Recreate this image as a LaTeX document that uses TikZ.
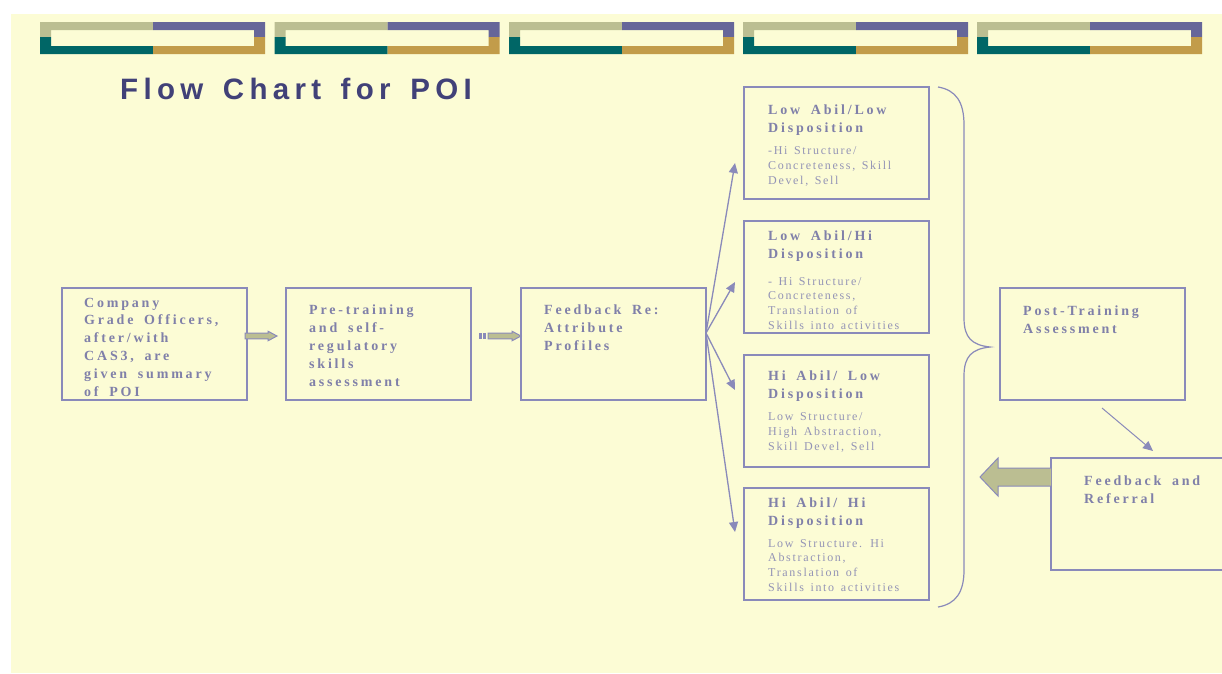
\documentclass[tikz,border=0pt]{standalone}
\usepackage{fontspec}
\setmainfont{Liberation Serif}
\newfontfamily\headfont[LetterSpace=18,WordSpace=1.45]{Liberation Sans}
\newfontfamily\boxfont[LetterSpace=20,WordSpace=1.7]{Liberation Serif}
\newfontfamily\notefont[LetterSpace=14,WordSpace=1.4]{Liberation Serif}
\usetikzlibrary{arrows.meta,calc}
\definecolor{cream}{HTML}{FCFCD5}
\definecolor{khaki}{HTML}{BBBE92}
\definecolor{slate}{HTML}{666699}
\definecolor{barteal}{HTML}{006666}
\definecolor{bargold}{HTML}{C29C4A}
\definecolor{boxline}{HTML}{8A8ABA}
\definecolor{boxtext}{HTML}{8080A9}
\definecolor{notetext}{HTML}{9494B6}
\definecolor{titletext}{HTML}{414178}
% small block arrow from #1 (tail) to #2 (tip)
\newcommand{\fatlink}[2]{%
  \filldraw[blockarrow] ($(#1)+(0,-2.8)$) -- ($(#2)+(-9,-2.8)$) -- ($(#2)+(-9,-4.8)$)
    -- (#2) -- ($(#2)+(-9,4.8)$) -- ($(#2)+(-9,2.8)$) -- ($(#1)+(0,2.8)$) -- cycle;}
\begin{document}
\begin{tikzpicture}
[x=1pt,y=-1pt,
  box/.style={draw=boxline,line width=1.1pt,minimum width=185pt,minimum height=112pt,
    anchor=north west,outer sep=0pt,inner sep=0pt},
  boldtxt/.style={text=boxtext,font=\boxfont\bfseries\fontsize{14}{17.8}\selectfont,
    align=left,inner sep=0pt,anchor=base west},
  notetxt/.style={text=notetext,font=\notefont\fontsize{12}{14.8}\selectfont,
    align=left,inner sep=0pt,anchor=base west},
  title/.style={text=titletext,font=\headfont\bfseries\fontsize{29.5}{35}\selectfont,
    inner sep=0pt,anchor=base west},
  link/.style={draw=boxline,line width=1.3pt,-{Triangle[length=10pt,width=9pt]}},
  blockarrow/.style={fill=khaki,draw=boxline,line width=1pt},
  fatarrow/.style={fill=khaki,draw=boxline,line width=1pt},
  brace/.style={draw=boxline,line width=1.2pt}]
\fill[white] (0,0) rectangle (1222,673);
\fill[cream] (11,14) rectangle (1222,673);
\useasboundingbox (0,0) rectangle (1222,673);
%% banner
\foreach \x in {40,274.5,509,743,977} {
  \fill[khaki] (\x,22) -- ++(113,0) -- ++(0,8) -- ++(-102,0) -- ++(0,7) -- ++(-11,0) -- cycle;
  \fill[slate] (\x+113,22) -- ++(112,0) -- ++(0,15) -- ++(-11,0) -- ++(0,-7) -- ++(-101,0) -- cycle;
  \fill[barteal] (\x,37) -- ++(11,0) -- ++(0,9) -- ++(102,0) -- ++(0,8) -- ++(-113,0) -- cycle;
  \fill[bargold] (\x+113,46) -- ++(101,0) -- ++(0,-9) -- ++(11,0) -- ++(0,17) -- ++(-112,0) -- cycle;
}
\node[title] (title) at (120,99) {Flow Chart for POI};
%% boxes
\foreach \nodename/\x/\y in {b1/62/288, b2/286/288, b3/521/288, b4/744/87, b5/744/221,
  b6/744/355, b7/744/488, post/1000/288, refer/1051/458} {
  \node (\nodename) at (\x,\y) [box] {};
}
%% texts (placed at the baseline of their last line)
\node[boldtxt] (t1) at (84,396) {Company\\Grade Officers,\\after/with\\CAS3, are\\given summary\\of POI};
\node[boldtxt] (t2) at (309,386) {Pre-training\\and self-\\regulatory\\skills\\assessment};
\node[boldtxt] (t3) at (544,350.5) {Feedback Re:\\Attribute\\Profiles};
\node[boldtxt] (h4) at (768,132.5) {Low Abil/Low\\Disposition};
\node[notetxt] (n4) at (768,184.5) {-Hi Structure/\\Concreteness, Skill\\Devel, Sell};
\node[boldtxt] (h5) at (768,258) {Low Abil/Hi\\Disposition};
\node[notetxt] (n5) at (768,329.5) {- Hi Structure/\\Concreteness,\\Translation of\\Skills into activities};
\node[boldtxt] (h6) at (768,398.5) {Hi Abil/ Low\\Disposition};
\node[notetxt] (n6) at (768,450.5) {Low Structure/\\High Abstraction,\\Skill Devel, Sell};
\node[boldtxt] (h7) at (768,525) {Hi Abil/ Hi\\Disposition};
\node[notetxt] (n7) at (768,591.5) {Low Structure. Hi\\Abstraction,\\Translation of\\Skills into activities};
\node[boldtxt] (t8) at (1023,333) {Post-Training\\Assessment};
\node[boldtxt] (t9) at (1084,503) {Feedback and\\Referral};
%% block arrows
\coordinate (s1) at ([shift={(-2pt,8pt)}]b1.east);
\coordinate (e1) at ([shift={(-9pt,8pt)}]b2.west);
\fatlink{s1}{e1}
\coordinate (s2) at ([shift={(17pt,8pt)}]b2.east);
\coordinate (e2) at ([yshift=8pt]b3.west);
\fatlink{s2}{e2}
\fill[boxline] ($(s2)+(-9,-2.8)$) rectangle ++(3,5.6);
\fill[boxline] ($(s2)+(-5,-2.8)$) rectangle ++(3,5.6);
%% fan out
\coordinate (fan) at ([yshift=11pt]b3.east);
\foreach \target/\dy in {b4/-20, b5/-5, b6/21, b7/12} {
  \draw[link] (fan) -- ([shift={(-9pt,\dy pt)}]\target.west);
}
%% brace
\draw[brace] (938,87) .. controls (956,90) and (964,102) .. (964,125) -- (964,318)
  .. controls (964,338) and (972,345) .. (990,347)
  .. controls (972,349) and (964,356) .. (964,376) -- (964,570)
  .. controls (964,592) and (956,604) .. (938,607);
%% post training to referral
\draw[link,line width=1pt] ([shift={(9.5pt,-8pt)}]post.south) -- ([shift={(102pt,7pt)}]refer.north west);
\coordinate (back) at ([yshift=37pt]refer.west);
\filldraw[fatarrow] ($(back)+(0,-9)$) -- ++(-53,0) -- ++(0,-10) -- ++(-18,19) -- ++(18,19)
  -- ++(0,-10) -- ($(back)+(0,9)$);
\end{tikzpicture}
\end{document}
